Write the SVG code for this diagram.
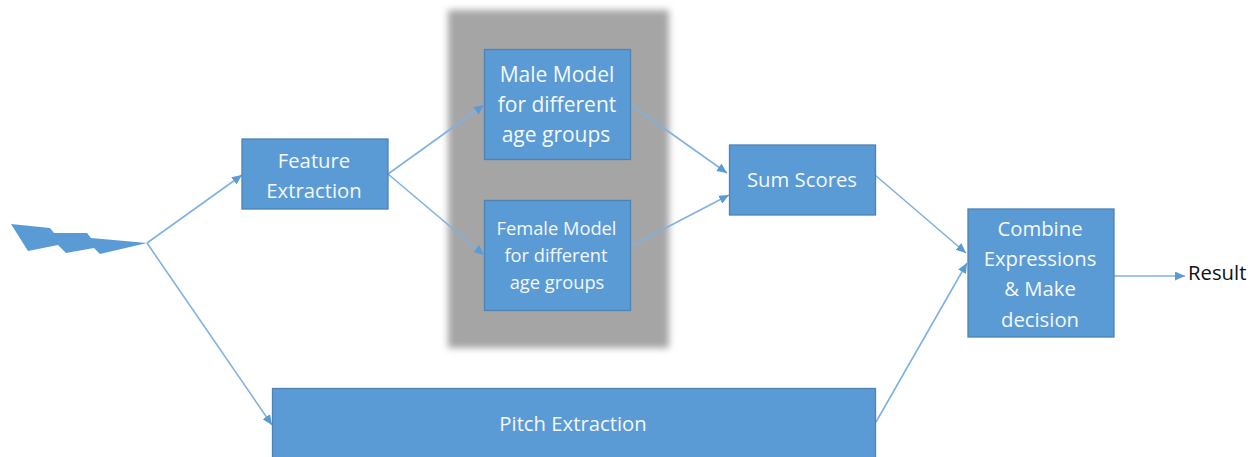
<svg xmlns="http://www.w3.org/2000/svg" width="1257" height="457" viewBox="0 0 1257 457">
<style>
.box{fill:#5b9bd5;stroke:#4f83b3;stroke-width:1.3}
.t{font-family:"Open Sans","Noto Sans","Liberation Sans",sans-serif;font-size:20.3px;fill:#f4f8fc;text-anchor:middle}
.m{font-size:21px}
.s{font-size:18.3px}
.c{fill:none;stroke:#7fb2e0;stroke-width:1.6;marker-end:url(#a)}
</style>
<defs>
<marker id="a" markerUnits="userSpaceOnUse" markerWidth="11" markerHeight="9" refX="10" refY="4.500" orient="auto"><path d="M0 0L10 4.500L0 9Z" fill="#5b9bd5"/></marker>
<filter id="b" x="-10%" y="-10%" width="120%" height="120%"><feGaussianBlur stdDeviation="3.500"/></filter>
</defs>
<rect id="shade" x="448" y="10" width="221" height="338" fill="#a5a5a5" filter="url(#b)"/>
<g id="connectors">
<path class="c" d="M147 243L242 175"/>
<path class="c" d="M147 243L272 425"/>
<path class="c" d="M388 174L484 105"/>
<path class="c" d="M388 174L484 255"/>
<path class="c" d="M631 105L727 173"/>
<path class="c" d="M633 245L729 195"/>
<path class="c" d="M875 175L966 253"/>
<path class="c" d="M876 422L967 263"/>
<path class="c" d="M1114 276L1185 276"/>
</g>
<g id="signal"><path d="M11 224L50 228L54 233L87 233L91 238L147 243L100 254L94 248L66 253L58 245L28 251Z" fill="#5b9bd5"/></g>
<g id="feature"><rect class="box" x="242" y="139" width="146" height="70"/><text class="t" x="314" y="168">Feature</text><text class="t" x="314" y="198">Extraction</text></g>
<g id="male"><rect class="box" x="484.500" y="49.500" width="146" height="110"/><text class="t m" x="557" y="82">Male Model</text><text class="t m" x="557" y="112">for different</text><text class="t m" x="556" y="142">age groups</text></g>
<g id="female"><rect class="box" x="484.500" y="200.500" width="146" height="110"/><text class="t s" x="556.500" y="235">Female Model</text><text class="t s" x="556" y="262">for different</text><text class="t s" x="557" y="289">age groups</text></g>
<g id="sum"><rect class="box" x="729.500" y="145" width="146" height="70"/><text class="t" x="802" y="187">Sum Scores</text></g>
<g id="combine"><rect class="box" x="968" y="209" width="146" height="128"/><text class="t" x="1040" y="236">Combine</text><text class="t" x="1040" y="266">Expressions</text><text class="t" x="1040" y="296">&amp; Make</text><text class="t" x="1040" y="327">decision</text></g>
<g id="pitch"><rect class="box" x="272.500" y="388.500" width="603" height="80"/><text class="t" x="573" y="431">Pitch Extraction</text></g>
<g id="result"><text x="1188" y="280" style="font-family:'Open Sans','Noto Sans',sans-serif;font-size:20.3px;fill:#111">Result</text></g>
</svg>
